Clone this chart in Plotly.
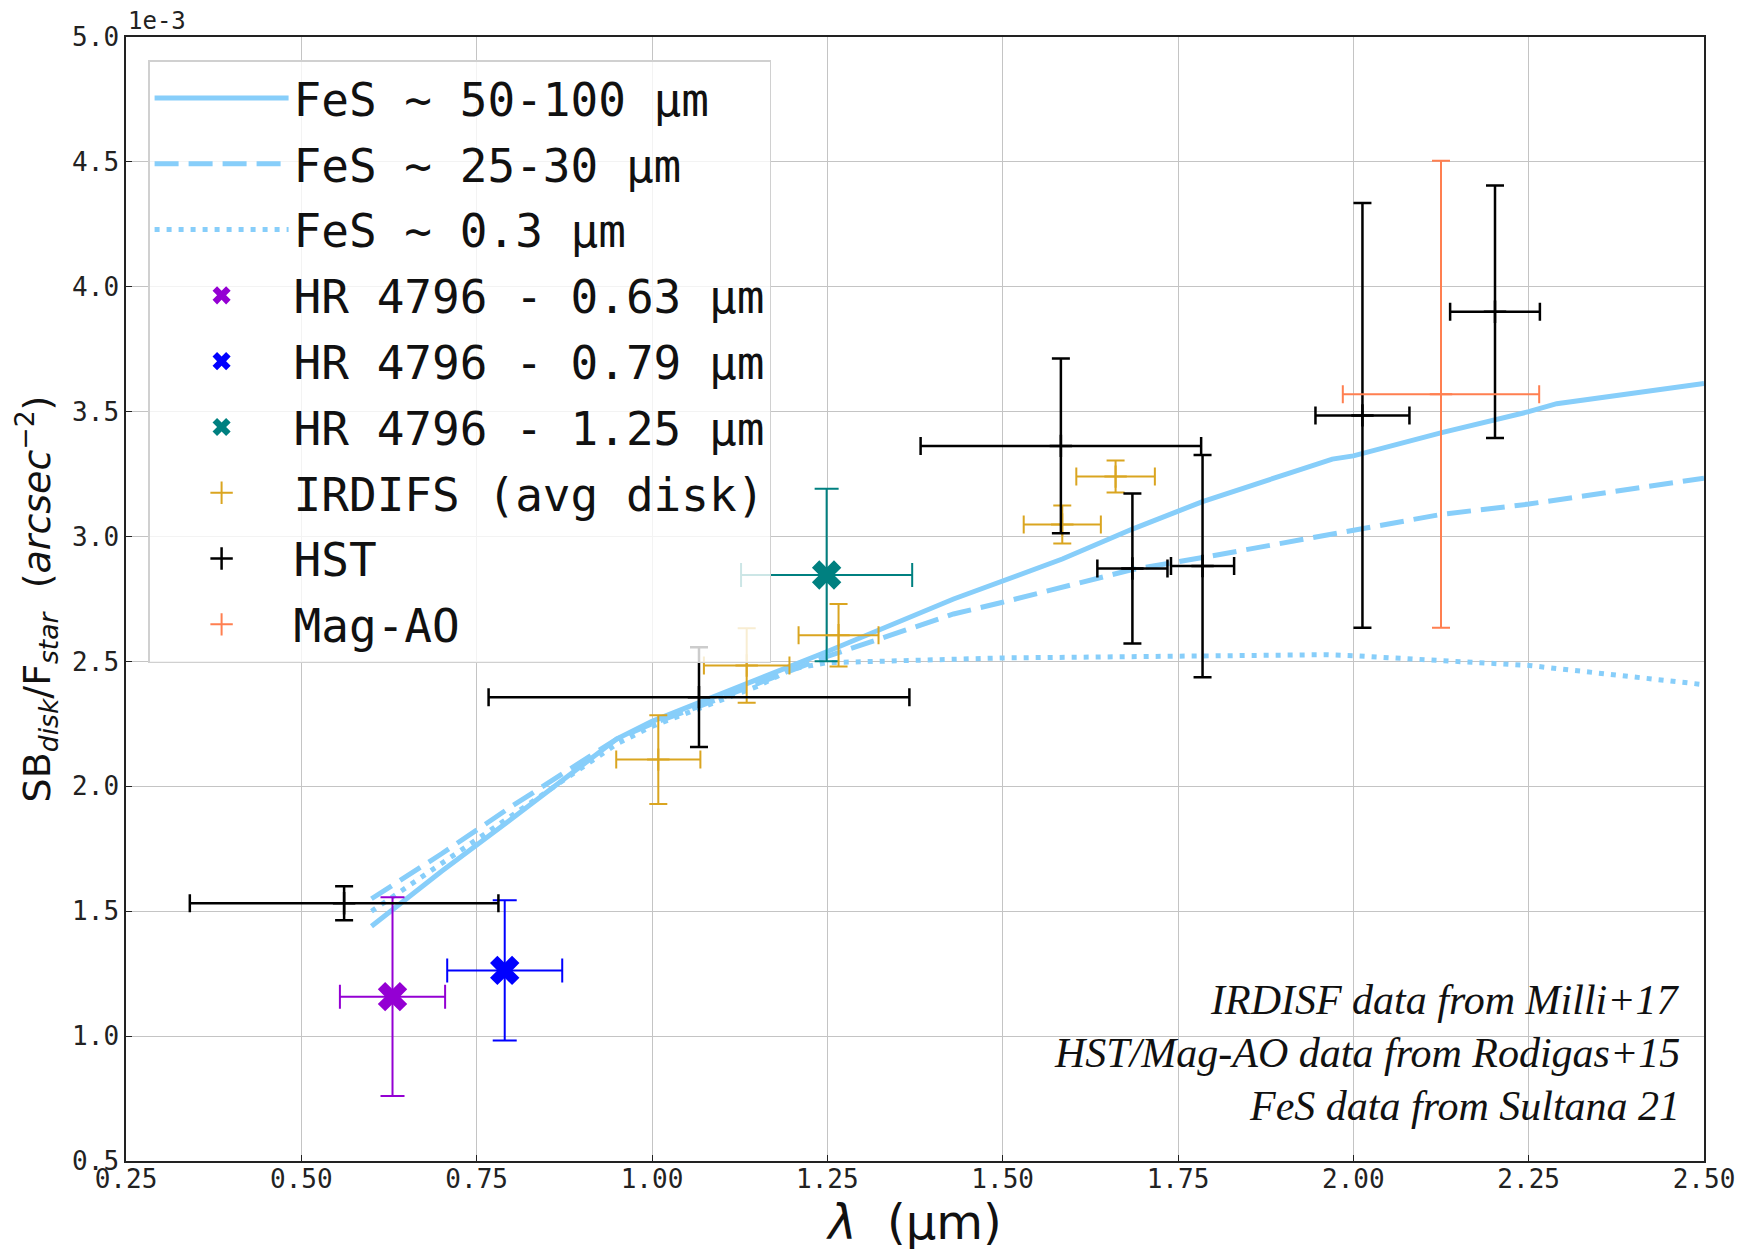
import plotly.graph_objects as go

# ---------------- data (y in units of 1e-3 arcsec^-2) ----------------
fes_big_x = [0.60, 0.70, 0.80, 0.95, 1.00, 1.067, 1.25, 1.43, 1.50, 1.585, 1.685, 1.785, 1.91, 1.97, 2.00, 2.126, 2.25, 2.29, 2.50]
fes_big_y = [1.44, 1.66, 1.87, 2.19, 2.26, 2.335, 2.54, 2.75, 2.823, 2.91, 3.03, 3.14, 3.255, 3.31, 3.323, 3.416, 3.50, 3.532, 3.613]

fes_mid_x = [0.60, 0.70, 0.80, 0.95, 1.00, 1.067, 1.25, 1.43, 1.50, 1.685, 1.785, 2.00, 2.126, 2.25, 2.50]
fes_mid_y = [1.55, 1.73, 1.92, 2.19, 2.25, 2.32, 2.52, 2.69, 2.737, 2.868, 2.916, 3.027, 3.089, 3.130, 3.234]

fes_small_x = [0.60, 0.70, 0.80, 0.95, 1.00, 1.067, 1.15, 1.20, 1.25, 1.50, 1.75, 1.96, 2.00, 2.25, 2.50]
fes_small_y = [1.50, 1.69, 1.88, 2.17, 2.24, 2.31, 2.40, 2.47, 2.495, 2.514, 2.523, 2.527, 2.523, 2.484, 2.407]

hr_labels = ["HR 4796 - 0.63 μm", "HR 4796 - 0.79 μm", "HR 4796 - 1.25 μm"]
hr_x = [0.63, 0.79, 1.249]
hr_y = [1.158, 1.263, 2.846]
hr_xerr = [0.075, 0.082, 0.122]
hr_yerr = [0.398, 0.281, 0.345]
hr_colors = ["#9400D3", "#0000FF", "#008080"]

irdifs_x = [1.009, 1.135, 1.266, 1.585, 1.661]
irdifs_y = [2.107, 2.484, 2.605, 3.048, 3.240]
irdifs_xerr = [0.060, 0.061, 0.057, 0.055, 0.056]
irdifs_yerr = [0.178, 0.149, 0.125, 0.076, 0.064]

hst_x = [0.561, 1.067, 1.583, 1.685, 1.785, 2.013, 2.202]
hst_y = [1.532, 2.357, 3.363, 2.872, 2.882, 3.485, 3.900]
hst_xerr = [0.220, 0.300, 0.200, 0.050, 0.045, 0.067, 0.064]
hst_yerr = [0.068, 0.200, 0.350, 0.300, 0.445, 0.850, 0.505]

magao_x = [2.125]
magao_y = [3.570]
magao_xerr = [0.140]
magao_yerr = [0.935]

x_ticks = [0.25, 0.50, 0.75, 1.00, 1.25, 1.50, 1.75, 2.00, 2.25, 2.50]
y_ticks = [0.5, 1.0, 1.5, 2.0, 2.5, 3.0, 3.5, 4.0, 4.5, 5.0]

notes = ["IRDISF data from Milli+17", "HST/Mag-AO data from Rodigas+15", "FeS data from Sultana 21"]

LINE_C = "#87CEFA"
MONO = "DejaVu Sans Mono"

fig = go.Figure()

fig.add_trace(go.Scatter(x=fes_big_x, y=fes_big_y, mode="lines", name="FeS ~ 50-100 μm", legendgroup="g1",
                         line=dict(color=LINE_C, width=5, dash="solid")))
fig.add_trace(go.Scatter(x=fes_mid_x, y=fes_mid_y, mode="lines", name="FeS ~ 25-30 μm", legendgroup="g2",
                         line=dict(color=LINE_C, width=5, dash="24px,10px")))
fig.add_trace(go.Scatter(x=fes_small_x, y=fes_small_y, mode="lines", name="FeS ~ 0.3 μm", legendgroup="g3",
                         line=dict(color=LINE_C, width=5, dash="5px,7px")))

for i, (lab, x, y, xe, ye, c) in enumerate(zip(hr_labels, hr_x, hr_y, hr_xerr, hr_yerr, hr_colors)):
    fig.add_trace(go.Scatter(
        x=[x], y=[y], mode="markers", name=lab, legendgroup=f"h{i}",
        marker=dict(symbol="x", size=26, color=c, line=dict(width=0)),
        error_x=dict(type="data", array=[xe], color=c, thickness=2, width=12),
        error_y=dict(type="data", array=[ye], color=c, thickness=2, width=12),
    ))

def err_trace(name, xs, ys, xe, ye, color, thick, cap):
    return go.Scatter(
        x=xs, y=ys, mode="markers", name=name, legendgroup=name,
        marker=dict(symbol="cross-thin-open", size=16, color=color,
                    line=dict(color=color, width=thick)),
        error_x=dict(type="data", array=xe, color=color, thickness=thick, width=cap),
        error_y=dict(type="data", array=ye, color=color, thickness=thick, width=cap),
    )

fig.add_trace(err_trace("IRDIFS (avg disk)", irdifs_x, irdifs_y, irdifs_xerr, irdifs_yerr, "#DAA520", 2, 9))
fig.add_trace(err_trace("HST", hst_x, hst_y, hst_xerr, hst_yerr, "#000000", 2.5, 9))
fig.add_trace(err_trace("Mag-AO", magao_x, magao_y, magao_xerr, magao_yerr, "#FF7F50", 2, 9))

axis_common = dict(
    showgrid=True, gridcolor="#c4c4c4", gridwidth=1,
    showline=True, linecolor="#222222", linewidth=1.5, mirror=True,
    ticks="inside", ticklen=6, tickcolor="#222222", tickwidth=1,
    tickfont=dict(family=MONO, size=26, color="#222222"),
    zeroline=False,
)

fig.update_xaxes(range=[0.25, 2.50], tickvals=x_ticks,
                 ticktext=[f"{v:.2f}" for v in x_ticks], ticklabelstandoff=-6,
                 title=dict(text="<i>λ</i>  (μm)", font=dict(family="DejaVu Sans", size=48, color="#111111"),
                            standoff=2),
                 **axis_common)
fig.update_yaxes(range=[0.5, 5.0], tickvals=y_ticks,
                 ticktext=[f"{v:.1f}" for v in y_ticks],
                 title=dict(text="SB<sub><i>disk</i></sub>/F<sub><i>star</i></sub>  (<i>arcsec</i><sup>−2</sup>)",
                            font=dict(family="DejaVu Sans", size=38, color="#111111"), standoff=10),
                 **axis_common)

annotations = [dict(text="1e-3", x=0, y=1, xref="paper", yref="paper", xanchor="left", yanchor="bottom",
                    showarrow=False, font=dict(family=MONO, size=24, color="#222222"), yshift=0)]
note_y = [0.143, 0.096, 0.049]
for t, ny in zip(notes, note_y):
    annotations.append(dict(text=f"<i>{t}</i>", x=0.986, y=ny, xref="paper", yref="paper",
                            xanchor="right", yanchor="middle", showarrow=False,
                            font=dict(family="Liberation Serif", size=42, color="#111111")))

# page body has an 8px margin; margins below compensate for it
fig.update_layout(
    width=1758, height=1251,
    margin=dict(l=118, r=62, t=29, b=98),
    paper_bgcolor="white", plot_bgcolor="white",
    showlegend=True,
    legend=dict(x=0.014, y=0.9795, xanchor="left", yanchor="top",
                bgcolor="rgba(255,255,255,0.8)", bordercolor="#d0d0d0", borderwidth=1.5,
                font=dict(family=MONO, size=46, color="#111111"),
                itemwidth=134, tracegroupgap=3, traceorder="grouped"),
    annotations=annotations,
)

fig.write_html("out.html")
